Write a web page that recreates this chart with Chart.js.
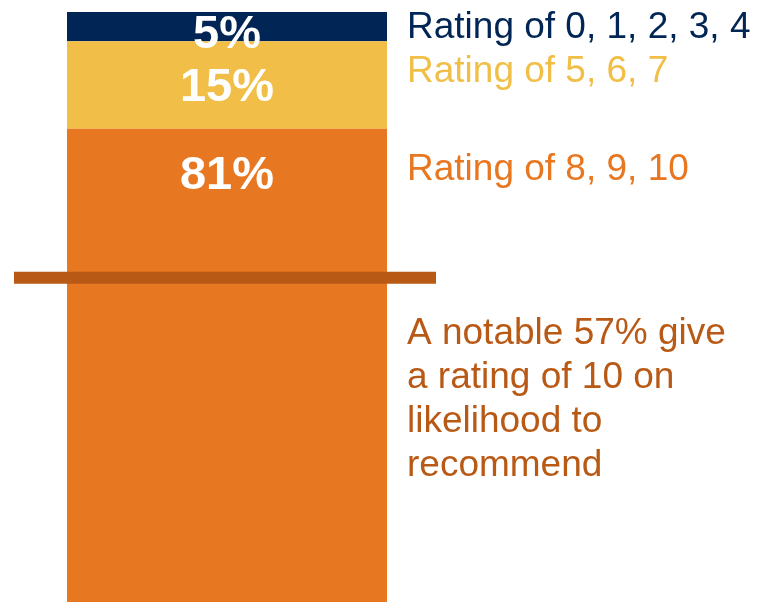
<!DOCTYPE html>
<html>
<head>
<meta charset="utf-8">
<script src="https://cdn.jsdelivr.net/npm/chart.js@4"></script>
<style>
  html, body { margin: 0; padding: 0; background: #fff; }
  #wrap { width: 758px; height: 602px; }
</style>
</head>
<body>
<div id="wrap"><canvas id="chart"></canvas></div>
<script>
// segments, bottom to top
const categories = ["Rating of 8, 9, 10", "Rating of 5, 6, 7", "Rating of 0, 1, 2, 3, 4"];
const shares = [81, 15, 5];
const colors = ["#E87722", "#F1BE48", "#012554"];
const legendColors = ["#E87722", "#F1BE48", "#012554"];

// the share that gives a 10, marked by a line across the bar
const noteLineValue = 55.5;
const noteLines = ["A notable 57% give", "a rating of 10 on", "likelihood to", "recommend"];
const noteColor = "#B85915";

const sideLabels = {
  id: "sideLabels",
  afterDatasetsDraw(chart) {
    const { ctx, scales } = chart;
    const y = scales.y;
    const area = chart.chartArea;

    // white percentages inside the bar
    ctx.save();
    ctx.font = "bold 47px 'Liberation Sans', Arial, sans-serif";
    ctx.fillStyle = "#fff";
    ctx.textAlign = "center";
    ctx.textBaseline = "middle";
    chart.data.datasets.forEach((ds, i) => {
      const bar = chart.getDatasetMeta(i).data[0];
      const top = bar.y;
      const h = bar.base - bar.y;
      ctx.fillText(ds.data[0] + "%", bar.x, top + Math.min(h / 2 + 8, 47));
    });
    ctx.restore();

    // the 57% line, a bit wider than the bar on both sides
    const ly = y.getPixelForValue(noteLineValue);
    ctx.save();
    ctx.strokeStyle = noteColor;
    ctx.lineWidth = 12;
    ctx.beginPath();
    ctx.moveTo(area.left - 2, ly);
    ctx.lineTo(area.right - 2, ly);
    ctx.stroke();
    ctx.restore();

    // labels at the right of the bar
    const tx = area.right - 31;
    const offsets = [51, 41, 26];
    ctx.save();
    ctx.font = "37px 'Liberation Sans', Arial, sans-serif";
    ctx.textAlign = "left";
    ctx.textBaseline = "alphabetic";
    chart.data.datasets.forEach((ds, i) => {
      const bar = chart.getDatasetMeta(i).data[0];
      ctx.fillStyle = legendColors[i];
      ctx.fillText(ds.label, tx, bar.y + offsets[i]);
    });
    ctx.fillStyle = noteColor;
    noteLines.forEach((line, i) => {
      ctx.fillText(line, tx, 344 + i * 44);
    });
    ctx.restore();
  }
};

new Chart(document.getElementById("chart"), {
  type: "bar",
  data: {
    labels: [""],
    datasets: categories.map((label, i) => ({
      label,
      data: [shares[i]],
      backgroundColor: colors[i],
      borderWidth: 0,
      barPercentage: 1,
      categoryPercentage: 320 / 422
    }))
  },
  options: {
    responsive: true,
    maintainAspectRatio: false,
    animation: false,
    layout: { padding: { left: 16, right: 320, top: 12, bottom: 0 } },
    plugins: {
      legend: { display: false },
      tooltip: { enabled: false }
    },
    scales: {
      x: { stacked: true, display: false },
      y: { stacked: true, display: false, min: 0, max: 101 }
    }
  },
  plugins: [sideLabels]
});
</script>
</body>
</html>
